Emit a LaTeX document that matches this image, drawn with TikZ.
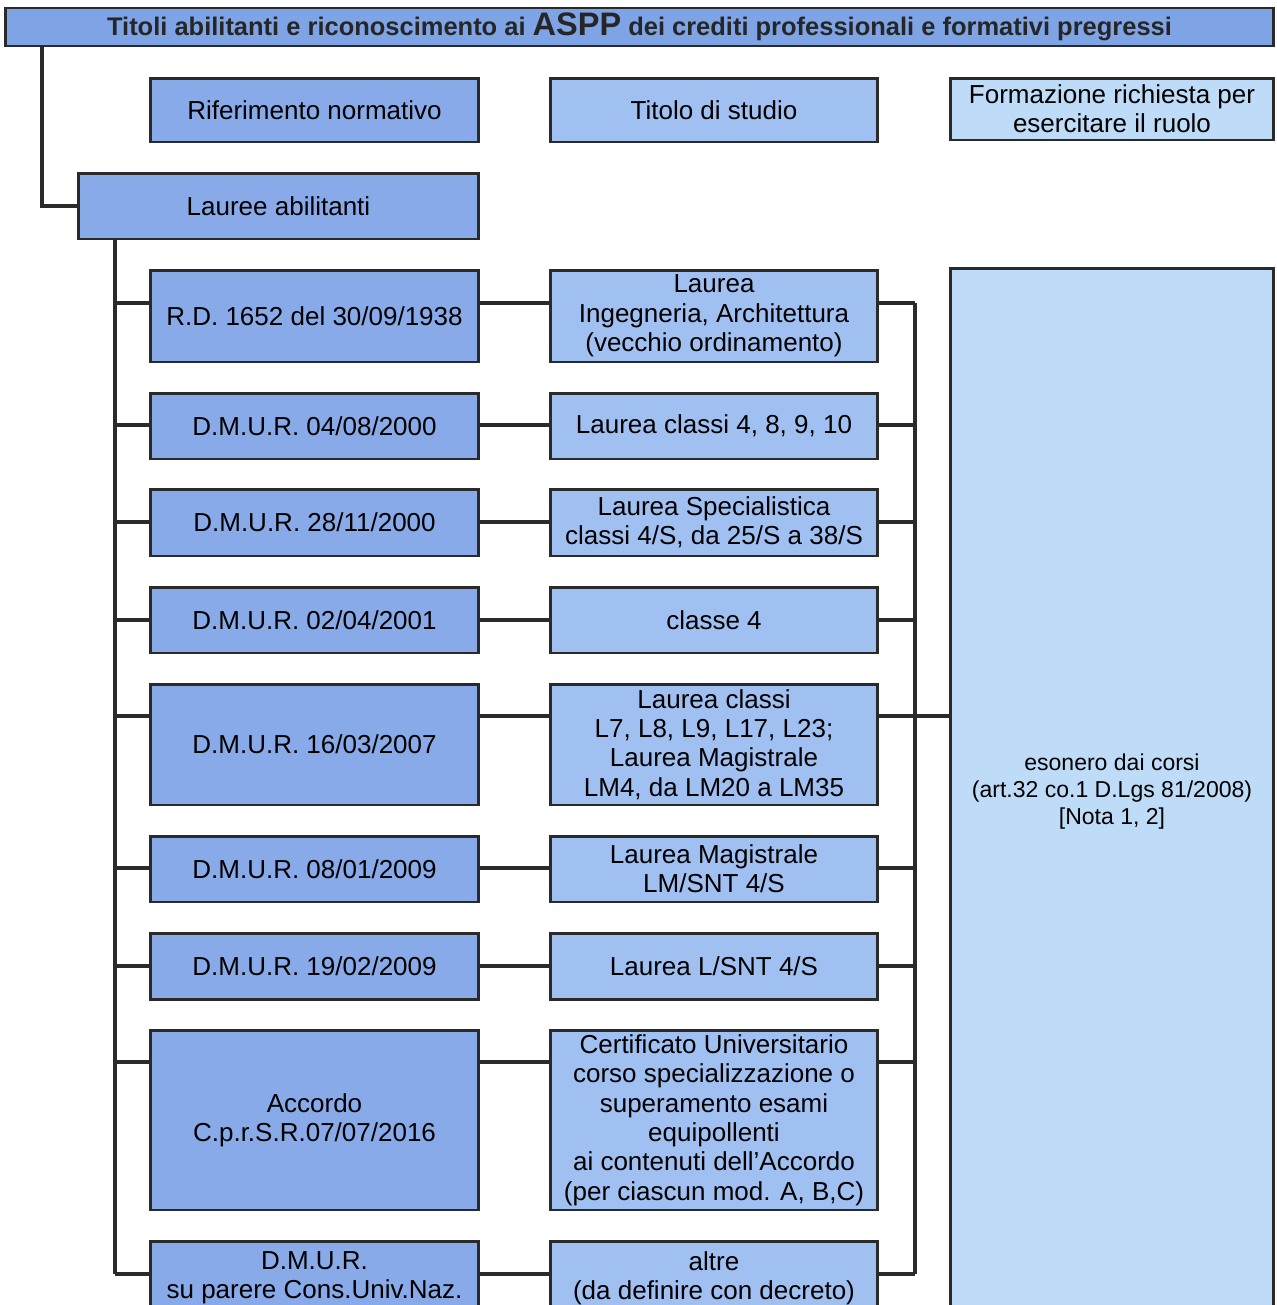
\documentclass[tikz,border=0pt]{standalone}
\usepackage{fontspec}
\setmainfont{Liberation Sans}
\definecolor{bordc}{HTML}{2A2A2A}
\definecolor{titfill}{HTML}{7FA4E6}
\definecolor{lfill}{HTML}{88AAE8}
\definecolor{mfill}{HTML}{A0C0F2}
\definecolor{bfill}{HTML}{BEDCF8}
\begin{document}
\begin{tikzpicture}[x=0.02cm,y=-0.02cm,
  bx/.style={draw=bordc, line width=1.7pt, inner sep=0pt, align=center, text=black,
    font=\fontsize{14.8pt}{16.7pt}\selectfont},
  lbox/.style={bx, fill=lfill, minimum width=6.58cm},
  mbox/.style={bx, fill=mfill, minimum width=6.56cm},
  conn/.style={draw=bordc, line width=1.8pt}]
\useasboundingbox (0,0) rectangle (1276,1305);
\clip (0,0) rectangle (1276,1305);
% title
\node[bx, fill=titfill, minimum width=25.38cm, minimum height=0.76cm, text=black!85,
  font=\bfseries\fontsize{14.5pt}{16pt}\selectfont] (title) at (639.5,27)
  {Titoli abilitanti e riconoscimento ai {\fontsize{18.5pt}{18pt}\selectfont ASPP} dei crediti professionali e formativi pregressi};
% headers
\node[lbox, minimum height=1.28cm] (hrif) at (314.5,110) {Riferimento normativo};
\node[mbox, minimum height=1.28cm] (htit) at (714,110) {Titolo di studio};
\node[bx, fill=bfill, minimum width=6.48cm, minimum height=1.24cm] (hform) at (1112,109) {Formazione richiesta per\\esercitare il ruolo};
\node[bx, fill=lfill, minimum width=8.02cm, minimum height=1.32cm] (lauree) at (278.5,206) {Lauree abilitanti};
% rows
\node[lbox, minimum height=1.84cm] (r1l) at (314.5,316) {R.D. 1652 del 30/09/1938};
\node[mbox, minimum height=1.84cm] (r1r) at (714,316) {Laurea\\Ingegneria, Architettura\\(vecchio ordinamento)};
\node[lbox, minimum height=1.32cm] (r2l) at (314.5,426) {D.M.U.R. 04/08/2000};
\node[mbox, minimum height=1.32cm] (r2r) at (714,426) {Laurea classi 4, 8, 9, 10};
\node[lbox, minimum height=1.34cm] (r3l) at (314.5,522.5) {D.M.U.R. 28/11/2000};
\node[mbox, minimum height=1.34cm] (r3r) at (714,522.5) {Laurea Specialistica\\classi 4/S, da 25/S a 38/S};
\node[lbox, minimum height=1.32cm] (r4l) at (314.5,620) {D.M.U.R. 02/04/2001};
\node[mbox, minimum height=1.32cm] (r4r) at (714,620) {classe 4};
\node[lbox, minimum height=2.42cm] (r5l) at (314.5,744.5) {D.M.U.R. 16/03/2007};
\node[mbox, minimum height=2.42cm] (r5r) at (714,744.5) {Laurea classi\\L7, L8, L9, L17, L23;\\Laurea Magistrale\\LM4, da LM20 a LM35};
\node[lbox, minimum height=1.32cm] (r6l) at (314.5,869) {D.M.U.R. 08/01/2009};
\node[mbox, minimum height=1.32cm] (r6r) at (714,869) {Laurea Magistrale\\LM/SNT 4/S};
\node[lbox, minimum height=1.32cm] (r7l) at (314.5,966) {D.M.U.R. 19/02/2009};
\node[mbox, minimum height=1.32cm] (r7r) at (714,966) {Laurea L/SNT 4/S};
\node[lbox, minimum height=3.6cm] (r8l) at (314.5,1120) {Accordo\\C.p.r.S.R.07/07/2016};
\node[mbox, minimum height=3.6cm] (r8r) at (714,1120) {Certificato Universitario\\corso specializzazione o\\superamento esami\\equipollenti\\ai contenuti dell’Accordo\\(per ciascun mod. A, B,C)};
\node[lbox, minimum height=1.48cm] (r9l) at (314.5,1278) {D.M.U.R.\\su parere Cons.Univ.Naz.};
\node[mbox, minimum height=1.48cm] (r9r) at (714,1278) {altre\\(da definire con decreto)};
% big box
\node[bx, fill=bfill, minimum width=6.48cm, minimum height=20.94cm,
  font=\fontsize{13.1pt}{15.6pt}\selectfont] (big) at (1112,791.5)
  {esonero dai corsi\\(art.32 co.1 D.Lgs 81/2008)\\{[Nota 1, 2]}};
% connector coordinates
\coordinate (tl) at (42,0);
\coordinate (lb) at (115,0);
\coordinate (rb) at (915,0);
\coordinate (c1) at (0,303);
\coordinate (c2) at (0,425);
\coordinate (c3) at (0,522);
\coordinate (c4) at (0,620);
\coordinate (c5) at (0,716);
\coordinate (c6) at (0,868);
\coordinate (c7) at (0,966);
\coordinate (c8) at (0,1062);
\coordinate (c9) at (0,1274);
% connectors
\draw[conn] (title.south -| tl) |- (lauree.west);
\draw[conn] (lauree.south -| lb) -- (lb |- c9);
\draw[conn] (rb |- c1) -- (rb |- c9);
\foreach \i in {1,...,9}{
  \draw[conn] (lb |- c\i) -- (r\i l.west |- c\i);
  \draw[conn] (r\i l.east |- c\i) -- (r\i r.west |- c\i);
  \draw[conn] (r\i r.east |- c\i) -- (rb |- c\i);
}
\draw[conn] (rb |- c5) -- (big.west |- c5);
\end{tikzpicture}
\end{document}
